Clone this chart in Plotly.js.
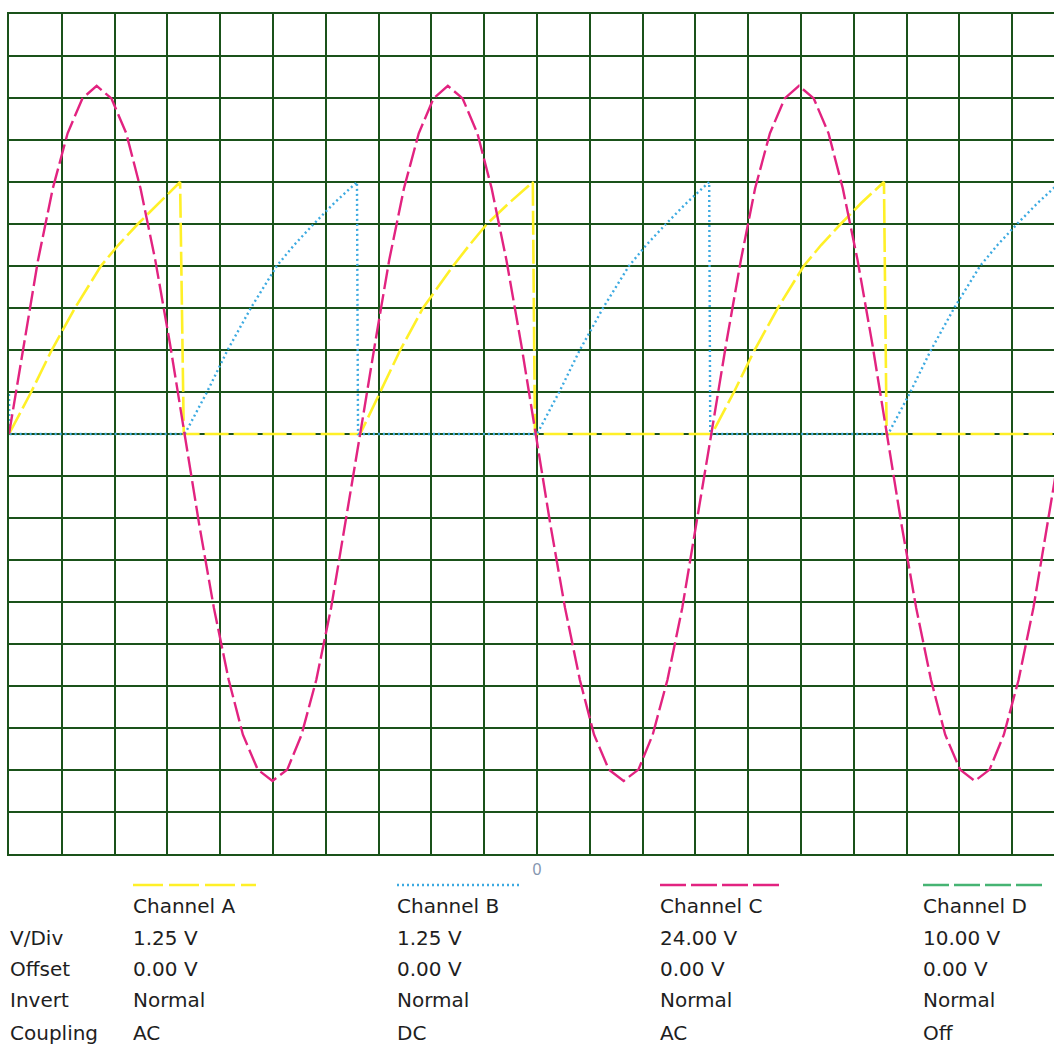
<!DOCTYPE html>
<html><head><meta charset="utf-8">
<script src="https://cdn.plot.ly/plotly-3.0.1.min.js"></script>
<style>html,body{margin:0;padding:0;background:#fff;overflow:hidden}</style>
</head><body><div id="chart" style="width:1054px;height:1044px"></div>
<script>
// time in divisions (0 = trigger), amplitude in divisions
const chanCx = [-10.00,-9.72,-9.45,-9.17,-8.89,-8.61,-8.34,-8.06,-7.78,-7.51,-7.23,-6.95,-6.67,-6.40,-6.12,-5.84,-5.57,-5.29,-5.01,-4.73,-4.46,-4.18,-3.90,-3.63,-3.35,-3.07,-2.80,-2.52,-2.24,-1.96,-1.69,-1.41,-1.13,-0.86,-0.58,-0.30,-0.02,0.25,0.53,0.81,1.08,1.36,1.64,1.92,2.19,2.47,2.75,3.02,3.30,3.58,3.86,4.13,4.41,4.69,4.96,5.24,5.52,5.79,6.07,6.35,6.63,6.90,7.18,7.46,7.73,8.01,8.29,8.57,8.84,9.12,9.40,9.67,9.95];
const chanCy = [0,2.14,4.14,5.85,7.16,7.99,8.29,7.99,7.16,5.85,4.14,2.14,0,-2.14,-4.14,-5.85,-7.16,-7.99,-8.26,-7.99,-7.16,-5.85,-4.14,-2.14,
                0,2.14,4.14,5.85,7.16,7.99,8.29,7.99,7.16,5.85,4.14,2.14,0,-2.14,-4.14,-5.85,-7.16,-7.99,-8.26,-7.99,-7.16,-5.85,-4.14,-2.14,
                0,2.14,4.14,5.85,7.16,7.99,8.29,7.99,7.16,5.85,4.14,2.14,0,-2.14,-4.14,-5.85,-7.16,-7.99,-8.26,-7.99,-7.16,-5.85,-4.14,-2.14,
                0];
const chanAx = [-10.00,-9.58,-9.19,-8.75,-8.26,-7.93,-7.56,-7.17,-6.76,-6.69,-3.35,-2.97,-2.59,-2.16,-1.59,-1.28,-0.95,-0.53,-0.08,-0.04,3.31,3.73,4.12,4.56,5.05,5.38,5.75,6.14,6.57,6.62,9.79];
const chanAy = [0,1,2,3,4,4.5,5,5.5,6,0, 0,1,2,3,4,4.5,5,5.5,6,0, 0,1,2,3,4,4.5,5,5.5,6,0, 0];
const chanBx = [-10.00,-9.99,-6.67,-6.25,-5.86,-5.42,-4.93,-4.60,-4.23,-3.84,-3.41,-3.39,0.00,0.42,0.81,1.25,1.74,2.07,2.44,2.83,3.26,3.28,6.65,7.07,7.46,7.90,8.39,8.72,9.09,9.48,9.91];
const chanBy = [0.95,0, 0,1,2,3,4,4.5,5,5.5,6,0, 0,1,2,3,4,4.5,5,5.5,6,0, 0,1,2,3,4,4.5,5,5.5,6];

const channelNames = ['Channel A','Channel B','Channel C','Channel D'];
const rowLabels = ['V/Div','Offset','Invert','Coupling'];
const vPerDiv = ['1.25 V','1.25 V','24.00 V','10.00 V'];
const offsets = ['0.00 V','0.00 V','0.00 V','0.00 V'];
const inverts = ['Normal','Normal','Normal','Normal'];
const couplings = ['AC','DC','AC','Off'];
const xTickVals = [0];
const xTickText = ['0'];

const colA = 'rgb(255,240,40)', colB = 'rgb(60,170,225)', colC = 'rgb(226,35,128)', colD = 'rgb(70,180,115)';
const gridCol = '#1a521a';

const traces = [
  {x: chanAx, y: chanAy, mode: 'lines', line: {color: colA, width: 2.6, dash: '24px,5px'}, hoverinfo: 'skip'},
  {x: chanBx, y: chanBy, mode: 'lines', line: {color: colB, width: 2.4, dash: '2px,3px'}, hoverinfo: 'skip'},
  {x: chanCx, y: chanCy, mode: 'lines', line: {color: colC, width: 2.4, dash: '20px,5px'}, hoverinfo: 'skip'}
];

// layout geometry (pixels)
const W = 1054, H = 1044, L = 9, T = 14, PW = 1045, PH = 840;
const px2x = p => (p - L) / PW;
const py2y = p => (T + PH - p) / PH;
const colPx = [131, 395, 658, 921];
const rowPy = [938, 969, 1000, 1033];
const txtFont = {family: 'DejaVu Sans, Arial, sans-serif', size: 20, color: '#1e1e1e'};

const annotations = [];
const shapes = [];
const sampleCols = [colA, colB, colC, colD];
const sampleDash = ['30px,6px', '2px,3px', '26px,5px', '26px,5px'];
channelNames.forEach((n, i) => {
  annotations.push({xref: 'paper', yref: 'paper', x: px2x(colPx[i]), y: py2y(906), text: n, showarrow: false, xanchor: 'left', yanchor: 'middle', font: txtFont});
  shapes.push({type: 'line', xref: 'paper', yref: 'paper', x0: px2x(colPx[i] + 2), x1: px2x(colPx[i] + 125), y0: py2y(885), y1: py2y(885),
    line: {color: sampleCols[i], width: 2.5, dash: sampleDash[i]}});
});
const rows = [vPerDiv, offsets, inverts, couplings];
rowLabels.forEach((lab, r) => {
  annotations.push({xref: 'paper', yref: 'paper', x: px2x(8), y: py2y(rowPy[r]), text: lab, showarrow: false, xanchor: 'left', yanchor: 'middle', font: txtFont});
  rows[r].forEach((v, i) => {
    annotations.push({xref: 'paper', yref: 'paper', x: px2x(colPx[i]), y: py2y(rowPy[r]), text: v, showarrow: false, xanchor: 'left', yanchor: 'middle', font: txtFont});
  });
});

const layout = {
  width: W, height: H,
  margin: {l: L, r: 0, t: T, b: H - T - PH, pad: 0},
  paper_bgcolor: '#fff', plot_bgcolor: '#fff',
  showlegend: false,
  xaxis: {range: [-10, 9.79], tickmode: 'array', tickvals: xTickVals, ticktext: xTickText,
    showgrid: true, gridcolor: gridCol, gridwidth: 2, zeroline: false,
    minor: {tickmode: 'linear', tick0: 0, dtick: 1, showgrid: true, gridcolor: gridCol, gridwidth: 2, ticks: ''},
    showline: true, linecolor: gridCol, linewidth: 2, mirror: true, ticks: '',
    tickfont: {family: 'Liberation Sans, Arial, sans-serif', size: 16, color: '#8596b0'}, fixedrange: true},
  yaxis: {range: [-10, 10], tickmode: 'linear', tick0: 0, dtick: 1, showticklabels: false,
    showgrid: true, gridcolor: gridCol, gridwidth: 2, zeroline: false,
    showline: true, linecolor: gridCol, linewidth: 2, mirror: false, ticks: '', fixedrange: true},
  annotations: annotations,
  shapes: shapes
};

Plotly.newPlot('chart', traces, layout, {displayModeBar: false, staticPlot: true});
</script></body></html>
